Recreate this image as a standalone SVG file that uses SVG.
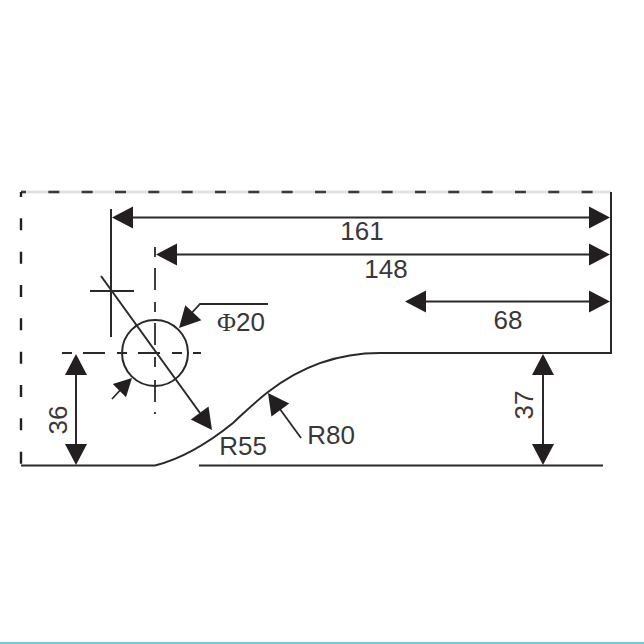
<svg xmlns="http://www.w3.org/2000/svg" width="644" height="644" viewBox="0 0 644 644">
<style>
.l{fill:none;stroke:#2b2829;stroke-width:2}
.t{fill:none;stroke:#2b2829;stroke-width:1.8}
.a{fill:#231f20;stroke:none}
text{font-family:"Liberation Sans",Arial,sans-serif;font-size:26px;fill:#3a3738}
</style>
<defs>
<path id="h" class="a" d="M0 0L-21-11V11Z"/>
</defs>
<rect width="644" height="644" fill="#fff"/>
<rect y="642" width="644" height="2" fill="#6ccbea"/>
<g id="outline">
<line x1="21" y1="192" x2="611" y2="192" stroke="#e2e2e2" stroke-width="3"/>
<line x1="21" y1="192" x2="611" y2="192" stroke="#3a3a3a" stroke-width="2.4" stroke-dasharray="11 22.33" stroke-dashoffset="6"/>
<line x1="21" y1="192" x2="21" y2="465" stroke="#231f20" stroke-width="2.4" stroke-dasharray="12 21.33" stroke-dashoffset="7"/>
<path class="l" d="M21 465.5H155C185 458 212 440 233 423C245 412 255 402 268 392C295 371 330 353 380 353H611V192"/>
<line class="l" x1="199" y1="465.5" x2="603" y2="465.5"/>
</g>
<g id="hole">
<circle class="l" cx="155" cy="353" r="33"/>
<path class="t" d="M155 247V257M155 268V290M155 302V312M155 323V345M155 357V367M155 380V402M155 412V414"/>
<path class="t" d="M62 353H72M83 353H105M117 353H127M138 353H160M172 353H182M193 353H201"/>
</g>
<g id="connectors">
<path class="l" d="M111 209V337"/>
<path class="t" d="M90 291H134"/>
<path class="l" d="M131 217.5H592M176 254.5H592M425 301.5H592M76 375V445M543 375V445"/>
<path class="l" d="M101 276L200 413"/>
<path class="t" d="M268 304H200L188 317"/>
<path class="t" d="M112 399L124 386"/>
<path class="t" d="M301 438L277 405"/>
<use href="#h" transform="translate(112 217.5) rotate(180)"/>
<use href="#h" transform="translate(610 217.5)"/>
<use href="#h" transform="translate(156 254.5) rotate(180)"/>
<use href="#h" transform="translate(610 254.5)"/>
<use href="#h" transform="translate(405 301.5) rotate(180)"/>
<use href="#h" transform="translate(610 301.5)"/>
<use href="#h" transform="translate(76 354) rotate(-90)"/>
<use href="#h" transform="translate(76 465) rotate(90)"/>
<use href="#h" transform="translate(543 354) rotate(-90)"/>
<use href="#h" transform="translate(543 465) rotate(90)"/>
<use href="#h" transform="translate(212 430) rotate(54)"/>
<use href="#h" transform="translate(179 328) rotate(133)"/>
<use href="#h" transform="translate(132 378) rotate(-45) scale(.85)"/>
<use href="#h" transform="translate(268 393) rotate(234)"/>
</g>
<g id="labels">
<text x="362" y="240" text-anchor="middle">161</text>
<text x="386" y="278" text-anchor="middle">148</text>
<text x="508" y="329" text-anchor="middle">68</text>
<text x="241" y="331" text-anchor="middle"><tspan font-family="Liberation Serif,serif">Φ</tspan>20</text>
<text x="243" y="455" text-anchor="middle">R55</text>
<text x="331" y="444" text-anchor="middle">R80</text>
<text transform="translate(67 420) rotate(-90)" text-anchor="middle">36</text>
<text transform="translate(533 405) rotate(-90)" text-anchor="middle">37</text>
</g>
</svg>
